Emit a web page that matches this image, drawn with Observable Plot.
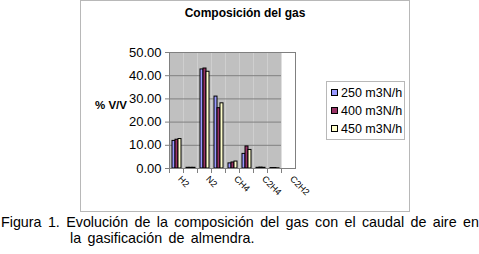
<!DOCTYPE html>
<html>
<head>
<meta charset="utf-8">
<script src="https://cdn.jsdelivr.net/npm/d3@7"></script>
<script src="https://cdn.jsdelivr.net/npm/@observablehq/plot@0.6"></script>
<style>
  body { margin: 0; background: #fff; font-family: Arial, "Liberation Sans", sans-serif; }
  #wrap { position: relative; width: 479px; height: 254px; overflow: hidden; }
  #chart { position: absolute; left: 0; top: 0; }
  .frame { position: absolute; left: 80px; top: 0px; width: 330px; height: 212px; border: 1px solid #b8b8b8; box-sizing: border-box; }
  .title { position: absolute; left: 0; width: 490px; top: 6px; text-align: center; font-weight: bold; font-size: 12px; }
  .ylab { position: absolute; left: 95px; top: 99px; font-weight: bold; font-size: 11.5px; }
  .legend { position: absolute; left: 326px; top: 81px; width: 79px; height: 59px; border: 1px solid #b8b8b8; box-sizing: border-box; font-size: 12.5px; }
  .legend .item { position: absolute; left: 4px; height: 14px; line-height: 14px; white-space: nowrap; }
  .legend .sw { display: inline-block; width: 5px; height: 5px; border: 1px solid #000; margin-right: 3px; vertical-align: 1px; }
  .cap { position: absolute; font-size: 14.3px; line-height: 15px; word-spacing: 2.4px; white-space: nowrap; }
</style>
</head>
<body>
<div id="wrap">
  <div class="frame"></div>
  <div id="chart"></div>
  <div class="title" id="title"></div>
  <div class="ylab" id="ylab"></div>
  <div class="legend" id="legend"></div>
  <div class="cap" id="cap1" style="left:1px; top:215px;"></div>
  <div class="cap" id="cap2" style="left:70px; top:231px;"></div>
</div>
<script>
const titleText = "Composición del gas";
const yLabel = "% V/V";
const captionLines = [
  "Figura 1. Evolución de la composición del gas con el caudal de aire en",
  "la gasificación de almendra."
];
const categories = ["H2", "O2", "N2", "CO", "CH4", "CO2", "C2H4", "C2H6", "C2H2"];
const shownLabels = ["H2", "N2", "CH4", "C2H4", "C2H2"];
const series = ["250 m3N/h", "400 m3N/h", "450 m3N/h"];
const v250 = [11.9, 0.3, 42.7, 31.0, 2.2, 6.3, 0.3, 0.2, 0];
const v400 = [12.4, 0.3, 43.1, 26.0, 2.6, 9.5, 0.4, 0.2, 0];
const v450 = [12.7, 0.3, 41.7, 28.1, 3.0, 8.0, 0.3, 0.1, 0];
const yTicks = [0, 10, 20, 30, 40, 50];
const colors = ["#9999FF", "#993366", "#FFFFCC"];

const valuesBySeries = [v250, v400, v450];
const data = [];
categories.forEach((c, i) => {
  series.forEach((s, j) => {
    data.push({cat: c, series: s, value: valuesBySeries[j][i]});
  });
});
const bars = data.filter(d => d.value > 0);

document.getElementById("title").textContent = titleText;
document.getElementById("ylab").textContent = yLabel;
document.getElementById("cap1").textContent = captionLines[0];
document.getElementById("cap2").textContent = captionLines[1];

const legend = document.getElementById("legend");
series.forEach((s, j) => {
  const it = document.createElement("div");
  it.className = "item";
  it.style.top = (4 + j * 18) + "px";
  const sw = document.createElement("span");
  sw.className = "sw";
  sw.style.background = colors[j];
  it.appendChild(sw);
  it.appendChild(document.createTextNode(s));
  legend.appendChild(it);
});

const chart = Plot.plot({
  width: 479,
  height: 210,
  marginLeft: 169,
  marginRight: 184,
  marginTop: 52,
  marginBottom: 42,
  style: {background: "transparent", fontFamily: "Arial, 'Liberation Sans', sans-serif", fontSize: "12px", color: "#000"},
  fx: {domain: categories, padding: 0, label: null},
  x: {domain: series, paddingInner: 0, paddingOuter: 0.55, axis: null},
  y: {domain: [0, 50], label: null},
  color: {domain: series, range: colors},
  marks: [
    Plot.frame({fill: "#c0c0c0", stroke: null}),
    Plot.ruleY(yTicks, {stroke: "#808080", strokeWidth: 1}),
    Plot.barY(bars, {fx: "cat", x: "series", y: "value", fill: "series", stroke: "#000", strokeWidth: 1}),
    Plot.frame({anchor: "left", stroke: "#808080", insetTop: 116, insetBottom: -4}),
    Plot.frame({anchor: "right", stroke: "#808080", insetTop: 116, insetBottom: -4}),
    Plot.frame({facet: "super", stroke: "#808080", fill: null}),
    Plot.axisY({ticks: yTicks, tickFormat: d3.format(".2f"), tickSize: 4, tickPadding: 4, stroke: "#808080", label: null, fontSize: 13}),
    Plot.axisFx({anchor: "bottom", tickSize: 0, tickPadding: 9, tickRotate: 45, fontSize: 9, label: null, dx: 3,
      tickFormat: d => shownLabels.includes(d) ? d : ""})
  ]
});
document.getElementById("chart").appendChild(chart);
</script>
</body>
</html>
